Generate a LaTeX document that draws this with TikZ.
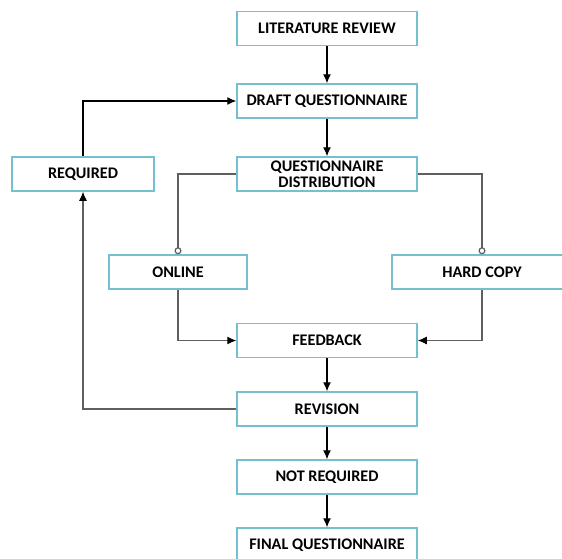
\documentclass[tikz,border=0pt]{standalone}
\usepackage{fontspec}
\setmainfont{Carlito}
\usetikzlibrary{calc}
\usetikzlibrary{arrows.meta}
\definecolor{boxblue}{RGB}{115,192,208}
\definecolor{linegray}{RGB}{95,95,95}
\tikzset{
  stage/.style = {draw=boxblue, line width=0.75pt, fill=white, minimum width=#1, minimum height=17pt,
                  inner sep=1pt, align=center, font=\fontsize{8.1}{8.8}\selectfont\bfseries},
  flow/.style = {color=#1, line width=0.6pt, -{Latex[length=4.5pt,width=4pt]}},
  branch/.style = {color=#1, line width=0.6pt, -{Circle[open,length=3.5pt,width=3.5pt,fill=white]}},
  loop/.style = {color=#1, line width=0.6pt}
}

\begin{document}
\begin{tikzpicture}[x=0.5pt, y=-0.5pt]

    % Frame
    \useasboundingbox (0,0) rectangle (562,558);
    \clip (0,0) rectangle (562,558);

    % Stages
    \node[stage=90pt] (lit)      at (327,28.5) {LITERATURE REVIEW};
    \node[stage=90pt] (draft)    at (327,101)  {DRAFT QUESTIONNAIRE};
    \node[stage=90pt] (dist)     at (327,174)  {QUESTIONNAIRE\\[-1pt]DISTRIBUTION};
    \node[stage=71pt] (required) at (83,174)   {REQUIRED};
    \node[stage=69pt] (online)   at (178,272)  {ONLINE};
    \node[stage=90pt] (hard)     at (482,272)  {HARD COPY};
    \node[stage=90pt] (feedback) at (327,340.5) {FEEDBACK};
    \node[stage=90pt] (revision) at (327,409)  {REVISION};
    \node[stage=90pt] (notreq)   at (327,477)  {NOT REQUIRED};
    \node[stage=90pt] (final)    at (327,545)  {FINAL QUESTIONNAIRE};

    % Main chain
    \draw[flow={black}] (lit) -- (draft);
    \draw[flow={black}] (draft) -- (dist);
    \draw[flow={black}] (feedback) -- (revision);
    \draw[flow={black}] (revision) -- (notreq);
    \draw[flow={black}] (notreq) -- (final);

    % Distribution branches
    \draw[branch={linegray}] (dist.west) -| (online.north);
    \draw[branch={linegray}] (dist.east) -| (hard.north);
    \draw[loop={linegray}] (online.south) |- ($(feedback.west)+(-8,0)$);
    \draw[flow={black}] ($(feedback.west)+(-8,0)$) -- (feedback.west);
    \draw[loop={linegray}] (hard.south) |- ($(feedback.east)+(8,0)$);
    \draw[flow={black}] ($(feedback.east)+(8,0)$) -- (feedback.east);

    % Revision loop
    \draw[loop={linegray}] (revision.west) -| ($(required.south)+(0,8)$);
    \draw[flow={black}] ($(required.south)+(0,8)$) -- (required.south);
    \draw[flow={black}] (required.north) |- (draft.west);

\end{tikzpicture}
\end{document}
